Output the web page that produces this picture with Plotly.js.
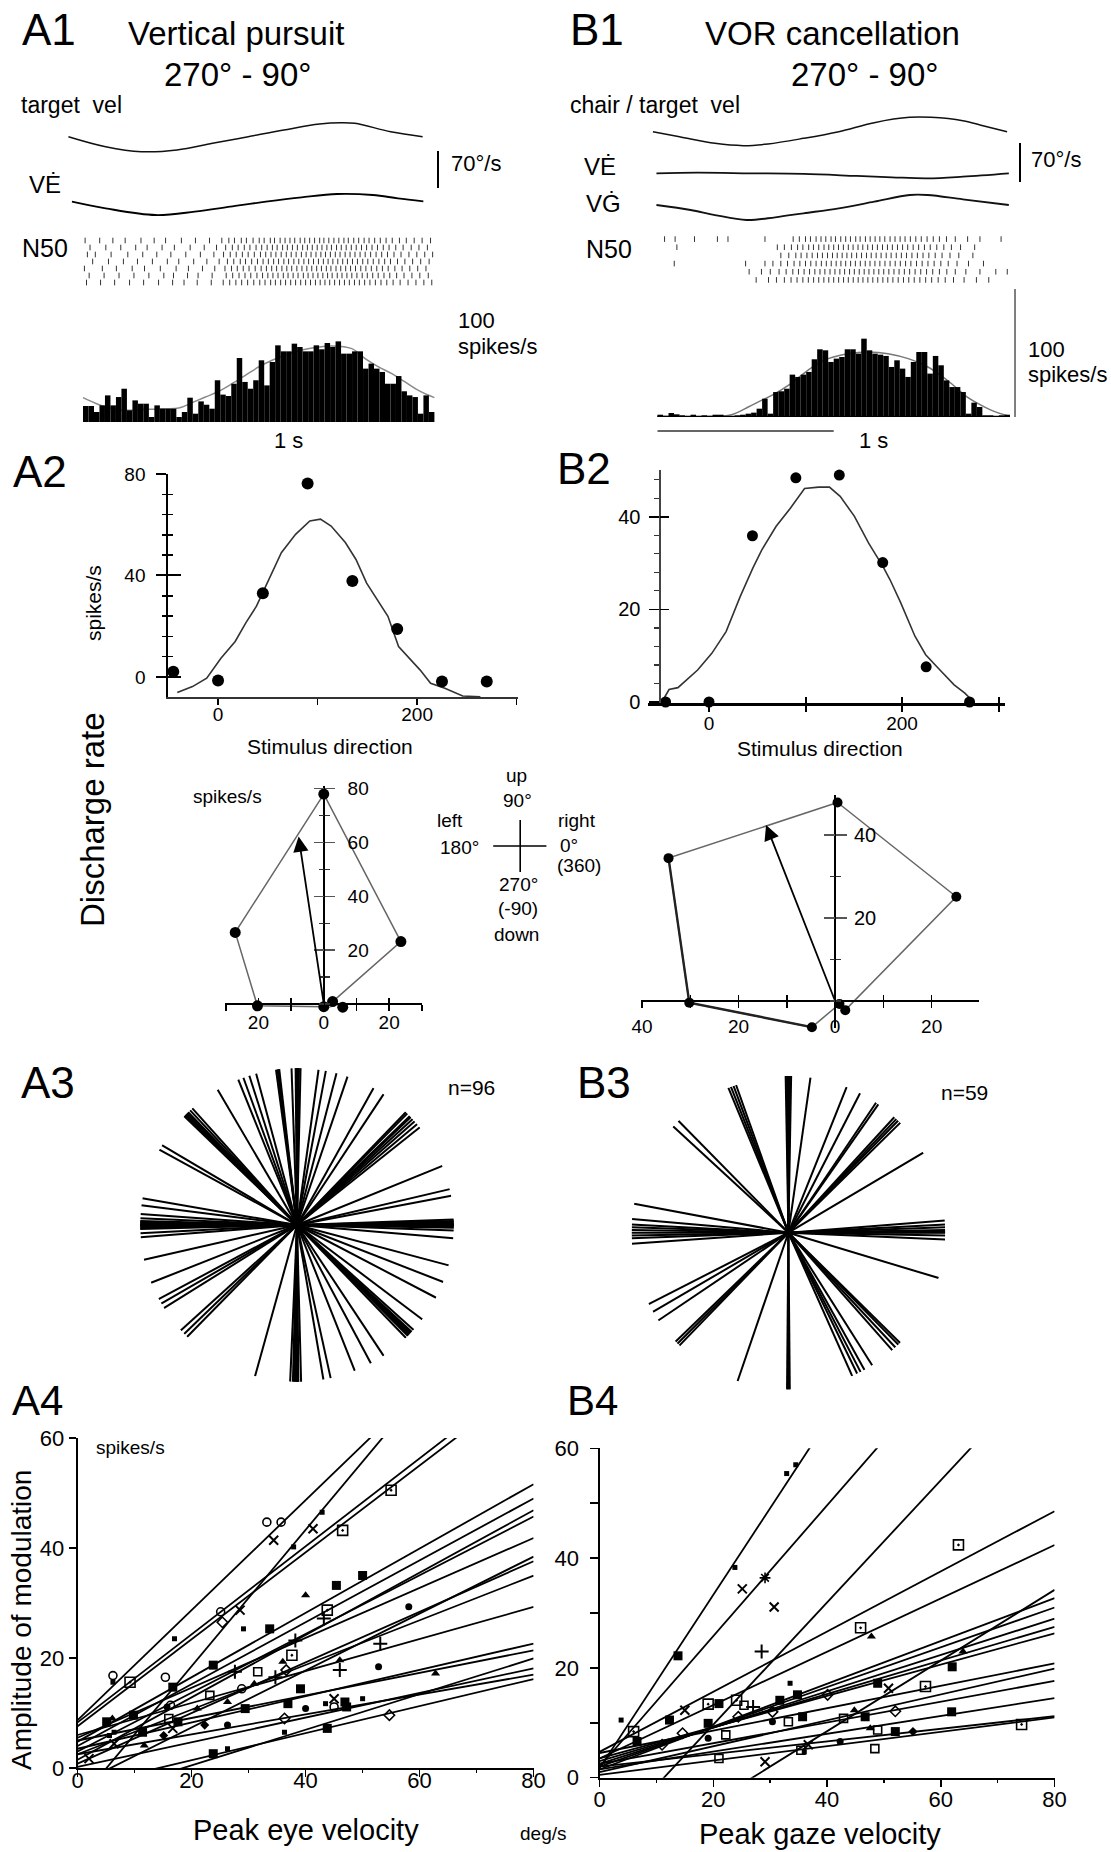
<!DOCTYPE html>
<html><head><meta charset="utf-8">
<script src="https://cdn.plot.ly/plotly-3.0.1.min.js"></script>
<style>html,body{margin:0;padding:0;background:#fff}#chart{width:1111px;height:1852px}</style>
</head><body><div id="chart"></div>
<script>
// ================= DATA =================
// A1 vertical pursuit traces: time (ms), velocity (deg/s)
const a1TargetT = [-83,129,332,535,737,940,1143,1346,1467,1548,1751,1933];
const a1TargetV = [0.6,-18.3,-27.7,-24.5,-11.9,0.6,13.2,24.5,27,25.8,10,0.6];
const a1EyeT = [-63,129,413,636,838,1041,1244,1447,1650,1792,1937];
const a1EyeV = [4.4,-8.2,-20.8,-14.5,-5.1,4.4,12.6,18.9,17,10.7,5.1];
// A1 raster (spike times, ms, per trial row)
const a1Rows = [
 [12,95,170,240,330,405,470,560,640,720,790,830,862,901,930,968,1003,1031,1066,1090,1122,1150,1178,1205,1236,1262,1290,1318,1347,1371,1399,1428,1456,1485,1510,1541,1569,1600,1628,1660,1692,1725,1760,1801,1840,1885,1930,1978],
 [40,130,215,300,365,450,520,610,690,760,812,850,883,918,950,985,1017,1048,1078,1105,1136,1163,1192,1220,1250,1277,1305,1333,1360,1388,1414,1443,1470,1498,1527,1555,1585,1614,1645,1676,1709,1742,1780,1822,1868,1912,1960],
 [25,70,160,255,340,420,500,585,668,745,800,838,872,907,940,975,1010,1040,1070,1098,1128,1157,1185,1213,1243,1270,1298,1326,1354,1380,1408,1436,1463,1492,1520,1548,1577,1606,1637,1668,1700,1733,1770,1810,1855,1900,1945,1990],
 [55,145,230,310,395,480,545,630,705,775,822,858,895,925,960,993,1025,1055,1085,1113,1143,1170,1200,1228,1257,1284,1312,1340,1368,1395,1422,1450,1478,1505,1534,1562,1592,1621,1652,1684,1717,1750,1790,1832,1876,1922,1970],
 [8,110,190,280,350,440,530,600,680,750,808,845,878,912,945,980,1014,1044,1074,1102,1132,1160,1188,1217,1246,1274,1302,1330,1357,1385,1411,1440,1467,1495,1523,1551,1581,1610,1641,1672,1704,1737,1775,1816,1860,1905,1952],
 [35,120,205,290,375,460,515,595,655,735,815,852,888,922,955,990,1022,1052,1081,1110,1140,1167,1196,1224,1254,1281,1309,1337,1365,1392,1418,1447,1474,1502,1530,1559,1589,1618,1649,1680,1713,1746,1785,1827,1872,1917,1965],
 [20,100,180,265,345,430,510,575,650,730,798,835,870,903,937,972,1006,1036,1068,1095,1125,1153,1182,1210,1239,1267,1295,1323,1350,1377,1404,1432,1460,1488,1516,1545,1573,1603,1633,1664,1696,1729,1765,1805,1850,1895,1940,1985]
];
// A1 PSTH (spikes/s), 64 bins over 2 s
const a1Hist = [12.5,12.5,7.8,13,20.8,13,19.5,26,9.1,16.9,14.3,14.3,3.9,13,10.4,10.4,10.4,3.9,7.8,19,6.5,16.1,13.5,10.4,32.6,21.4,20.3,29.9,50,31.3,26,32.6,48.2,28.6,46.9,59.9,55.2,55.2,61.2,58.6,55.2,55.2,59.9,56.8,61.7,58.6,63,53.4,53.4,55.2,55.2,41.7,45.6,41.7,39.1,29.9,29.9,35.9,24,20.8,19.5,6.5,20.8,7.8];
const a1FitT = [0,91,167,261,356,451,545,621,697,773,848,924,1000,1076,1189,1303,1417,1530,1606,1682,1758,1833,1909,2000];
const a1FitR = [19,13.5,10.4,9.1,9.9,10.4,10.9,15.1,19.5,24,29.9,36.5,43,48.2,54.2,57.8,59.4,57.3,49.5,43,37.8,31.3,24.7,19];

// B1 VOR cancellation traces
const b1ChairT = [-26,125,326,487,627,829,1029,1230,1431,1552,1733,1853,1984];
const b1ChairV = [-0.3,-9.3,-21.3,-25.4,-22.4,-12.3,-0.3,15.9,25.4,25.4,19.4,9.9,-0.3];
const b1EyeT = [-6,225,527,829,1130,1331,1532,1733,1994];
const b1EyeV = [0,1.1,0,-1.2,-4.8,-7.2,-9,-6,0];
const b1GazeT = [-6,188,326,506,668,829,1029,1230,1432,1532,1733,1994];
const b1GazeV = [4.5,-4.5,-13.5,-22.4,-17.6,-10.4,-1.4,10.4,22.4,22.4,14.7,4.5];
const b1Rows = [
 [40,100,210,340,400,610,770,805,840,868,900,928,955,985,1010,1040,1068,1095,1125,1150,1180,1207,1235,1262,1290,1320,1348,1377,1405,1435,1466,1497,1530,1565,1600,1640,1690,1760,1830,1950],
 [110,680,720,760,795,825,858,885,915,945,972,1000,1027,1055,1083,1110,1138,1165,1193,1220,1248,1277,1305,1333,1362,1391,1420,1451,1482,1515,1548,1585,1625,1668,1720,1800],
 [700,745,785,815,848,878,908,936,965,993,1020,1048,1075,1102,1130,1158,1186,1213,1241,1269,1298,1326,1355,1384,1413,1444,1475,1507,1540,1576,1615,1660,1710,1790],
 [95,500,610,655,700,738,775,808,840,870,900,930,958,986,1014,1041,1068,1096,1123,1151,1179,1206,1234,1262,1291,1320,1349,1378,1408,1438,1470,1502,1535,1570,1608,1650,1700,1765,1850],
 [520,590,640,690,730,768,800,832,863,893,922,950,979,1007,1035,1062,1090,1117,1145,1173,1200,1228,1256,1284,1313,1342,1371,1401,1431,1462,1494,1527,1562,1600,1642,1690,1750,1830,1920,1985],
 [560,630,675,720,758,792,825,856,886,915,944,972,1000,1028,1056,1083,1111,1139,1166,1194,1222,1250,1279,1307,1336,1366,1396,1426,1457,1489,1522,1556,1593,1633,1680,1740,1810,1880]
];
const b1Hist = [1.8,0.8,3.1,2.1,1.3,0.8,1.8,0.8,1.3,0.8,1.8,1.8,0.8,0,1.3,1.8,2.6,3.4,6.5,14.3,2.6,19.5,20.1,22.1,33.1,31.3,33.1,35.2,45.1,52.9,52.1,43,45.6,46.9,52.9,52.9,49.5,61.2,52.1,49.5,48.7,47.7,39.1,44.3,37.8,31.3,43,50.8,50.8,33.9,47.7,40.4,28.6,23.4,23.4,19.5,2.6,11.2,7.8,1.3,1.3,0.8,1.3,1.8];
const b1FitT = [0,325,420,515,590,666,742,817,893,969,1082,1196,1309,1423,1517,1593,1669,1744,1820,1896,2000];
const b1FitR = [0.5,0.5,1.8,7.8,13,18.2,24.7,32.6,40.4,45.6,49.5,50.8,49.5,45.6,40.4,33.9,26,16.9,10.4,5.2,0.5];

// A2 / B2 tuning curves: stimulus direction (deg) vs discharge (spikes/s)
const stimDir = [-45,0,45,90,135,180,225,270];
const a2Rate = [2.1,-1.4,33,76.3,37.8,18.9,-1.8,-1.8];
const a2FitX = [-41,-25.7,-11.4,2.9,17.2,27.9,38.6,52.9,63.6,77.9,92.2,102.9,113.6,127.9,138.6,149.3,160,170.7,181.4,192.2,202.9,213.6,227.9,245.8,263.6];
const a2FitY = [-6.1,-3.8,-0.5,7.4,14,21.3,27.9,39.7,49,56.2,61.5,62.2,59.5,53,46.3,37,30.5,23.9,12,7.4,2.8,-2.5,-4.5,-7.5,-7.8];
const b2Rate = [0,0,35.9,48.4,49,30.1,7.6,0];
const b2FitX = [-48.8,-41.4,-32.2,-11.8,2.9,17.7,32.4,45.4,54.6,69.4,84.1,99,113.7,124.8,135.9,150.7,165.4,180.2,187.6,198.7,213.4,224.5,239.3,254,265.1,274.3];
const b2FitY = [0,2.7,3.1,6.9,10.5,15.2,22.8,28.9,32.8,37.9,41.8,46.1,46.4,46.4,44.4,40.1,34.3,29.3,26.4,21.4,14.2,10.2,6.9,3.7,1.9,0];

// Polar plots (cartesian spikes/s)
const polAX = [0,-27.1,-20.3,0,3.3,5.8,2.7,23.6,0];
const polAY = [78,26.6,-0.7,-1,-2,-1.2,0.9,23.2,78];
const polAVec = [-7.7,62.2];
const polBX = [0.5,-34.5,-30.2,-4.8,0.9,2.1,25.1,0.5];
const polBY = [47.8,34.4,-0.4,-6.3,-0.7,-2.2,25.1,47.8];
const polBVec = [-14.3,42.4];

// A3 / B3 preferred directions (deg)
const a3Angles = [355.2,358,359,0,0.5,1,2,359.5,0.2,1.5,10.7,13.2,22.1,38.5,40,41.4,42.5,43.5,44,45.3,46,56.5,60.8,71.2,75.4,79.4,82.1,88.7,89.3,89.7,90,90.5,92,96.5,97,97.1,97.7,105.1,107.7,110,112,120.4,131.9,133,134,134.5,135,135.5,136,149.4,151.3,170.2,172.8,176,177.5,178.5,179,179.5,180,180.5,181,181.5,183,184.5,192.8,201.6,208.2,210.1,212,222.2,224,225.5,254.5,267.5,268.5,269,269.5,270,270.5,271.5,279.7,282.4,291.6,298.1,303.5,314,315,315.5,316,316.5,317,318,323,332.4,338.7,345.1];
const b3Angles = [0,0.2,0.5,1,2,3,4.5,359,357.5,30.7,44.5,45.6,46.5,47.5,55,56,62.8,68.2,81.9,89,89.5,90,90.5,91,109.5,110.5,111.5,112.5,134.5,137.3,169.4,175,177,178,179,180,181,182,184,207.1,210.3,214,224,225,226,251.1,269.5,270,270.5,294,296,297.4,299,302.3,311.5,313,314.5,315.4,343.2];

// A4 / B4 regression lines (intercept, slope)
const a4Int = [8.7,-6.3,8.3,7.6,4.8,4.0,1.5,3.0,5.5,-3.0,0.8,2.5,6.0,3.5,5.0,-6.0,0.2,2.5,-3.5];
const a4Slope = [1.0,1.24,0.80,0.79,0.585,0.5625,0.567,0.534,0.454,0.518,0.46,0.406,0.291,0.239,0.205,0.324,0.224,0.181,0.246];
const b4Int = [1.7,2.0,-12.6,4.7,3.5,-17.3,1.5,2.0,2.5,3.0,3.5,4.5,1.0,2.5,1.5,2.0,0.5];
const b4Slope = [1.58,1.19,1.113,0.548,0.486,0.644,0.39,0.3625,0.331,0.306,0.285,0.204,0.236,0.189,0.1625,0.115,0.131];
// A4 data points by symbol [velocity, amplitude]
const a4SqS = [[42.9,46.5],[37.9,40.2],[29.1,25.3],[43.5,11.7],[50,12.6],[26.3,3.5],[6.2,15.6],[17,23.5],[36.3,6.5],[6.4,6.5],[5.6,5.9]];
const a4SqL = [[45.4,33.2],[50,35],[33.7,25.3],[23.8,18.7],[39.1,14.4],[29.4,10.8],[36.9,11.7],[47.2,11.1],[43.8,7.2],[23.8,2.6],[17.6,8.4],[16.7,14.7],[11.4,6.5],[9.8,9.6],[5.1,8.4],[46.9,12]];
const a4CircO = [[33.2,44.7],[35.7,44.7],[25.1,28.4],[15.4,16.5],[6.2,16.8],[45,11.1],[16.3,11.4],[28.8,14.4]];
const a4X = [[34.4,41.4],[28.5,28.7],[45,12.6],[16.7,7.2],[6.4,4.4],[2,1.7],[41.3,43.5]];
const a4SqDot = [[46.5,43.2],[55,50.5],[43.8,28.7],[37.6,20.5],[9.2,15.6]];
const a4SqO = [[31.6,17.5],[23.2,13.2],[16,9]];
const a4Tri = [[40,31.4],[62.8,17.2],[36,19.3],[46,19.6],[21,10.8],[26.3,12],[6.1,9],[11.7,4.1],[31,15.3]];
const a4Cross = [[43.2,27.2],[38.2,23.2],[27.6,17.5],[34.7,16.5],[46,17.8],[53.1,22.6]];
const a4Circ = [[58.1,29.3],[52.8,18.4],[40,10.8],[15.7,11.1],[26.3,7.8]];
const a4DiaO = [[25.4,26.5],[54.7,9.6],[36.3,9],[36.6,17.8]];
const a4Dia = [[22.3,7.8],[15.1,5.9]];
// B4 data points by symbol
const b4SqS = [[33.4,71],[32.9,55.4],[34.5,57],[23.8,38.3],[3.8,10.5],[33.5,17.2],[36,4.7]];
const b4SqL = [[13.8,22.2],[6.6,6.6],[12.3,10.5],[21,13.5],[19.1,9.9],[34.8,15.1],[35.7,11.1],[46.7,11.1],[48.9,17.2],[52,8.4],[62,20.2],[61.9,12],[31.7,14.1]];
const b4X = [[25.1,34.4],[30.7,31.1],[15,12.3],[36.7,6],[29.1,2.9],[50.8,16.3]];
const b4Ast = [[29.1,36.4]];
const b4Cross = [[28.5,23],[27,12.9]];
const b4SqDot = [[6,8.4],[19.1,13.4],[45.9,27.3],[57.3,16.6],[63.1,42.4],[74.2,9.7],[24.1,14.1]];
const b4SqO = [[21,3.5],[22.2,7.8],[25.4,13.2],[33.2,10.2],[35.4,5],[42.9,10.8],[48.9,8.7],[48.4,5.3]];
const b4DiaO = [[14.6,8.1],[24.4,11.1],[30.4,12],[40.1,15.1],[52,12.1],[11,6]];
const b4Circ = [[30.4,10.2],[42.3,6.6],[19.1,7.2]];
const b4Tri = [[44.8,12.3],[47.6,9],[47.8,25.7],[63.9,23]];
const b4Dia = [[55.1,8.4]];

// ================= LAYOUT HELPERS =================
const W = 1111, H = 1852;
const px = v => v / W;
const py = v => 1 - v / H;
const dom = (a, b) => [px(a), px(b)];
const domY = (top, bottom) => [py(bottom), py(top)];
const FONT = 'Liberation Sans, Arial, Helvetica, sans-serif';
const BIN_MS = 2000 / 64;

const traces = [];
const annotations = [];
const shapes = [];

function txt(text, x, y, size, o) {
  annotations.push(Object.assign({text: text, x: px(x), y: py(y), xref: 'paper', yref: 'paper',
    showarrow: false, xanchor: 'center', yanchor: 'middle',
    font: {family: FONT, size: size, color: '#000'}}, o || {}));
}
function pline(x0, y0, x1, y1, w, c) {
  shapes.push({type: 'line', xref: 'paper', yref: 'paper', x0: px(x0), y0: py(y0), x1: px(x1), y1: py(y1),
    line: {color: c || '#000', width: w}});
}
function lineTrace(x, y, xa, ya, color, width, extra) {
  traces.push(Object.assign({type: 'scatter', mode: 'lines', x: x, y: y, xaxis: xa, yaxis: ya,
    line: {color: color, width: width}, hoverinfo: 'skip', showlegend: false}, extra || {}));
}
function dots(x, y, xa, ya, size) {
  traces.push({type: 'scatter', mode: 'markers', x: x, y: y, xaxis: xa, yaxis: ya, cliponaxis: false,
    marker: {color: '#000', size: size, symbol: 'circle'}, hoverinfo: 'skip', showlegend: false});
}
function dummy(xa, ya) {
  traces.push({type: 'scatter', mode: 'markers', x: [null], y: [null], xaxis: xa, yaxis: ya, hoverinfo: 'skip', showlegend: false});
}
function raster(rows, xa, ya) {
  const xs = [], ys = [];
  rows.forEach((r, i) => r.forEach(t => { xs.push(t); ys.push(i + 1); }));
  traces.push({type: 'scatter', mode: 'markers', x: xs, y: ys, xaxis: xa, yaxis: ya,
    marker: {symbol: 'line-ns-open', size: 4, color: '#333', line: {width: 1, color: '#333'}},
    hoverinfo: 'skip', showlegend: false});
}
function hist(vals, xa, ya) {
  traces.push({type: 'bar', x: vals.map((v, i) => (i + 0.5) * BIN_MS), y: vals, width: BIN_MS,
    xaxis: xa, yaxis: ya, marker: {color: '#000', line: {width: 0}}, hoverinfo: 'skip', showlegend: false});
}
function rays(angles, subplot) {
  const r = [], th = [];
  angles.forEach(a => { r.push(0, 1, null); th.push(a, a, null); });
  traces.push({type: 'scatterpolar', mode: 'lines', r: r, theta: th, subplot: subplot,
    line: {color: '#000', width: 2}, hoverinfo: 'skip', showlegend: false});
}
function regLines(ints, slopes, xa, ya) {
  ints.forEach((b, i) => lineTrace([0, 80], [b, b + 80 * slopes[i]], xa, ya, '#000', 1.8));
}
const SYM = {
  sqS: {symbol: 'square', size: 5}, sqL: {symbol: 'square', size: 9},
  circO: {symbol: 'circle-open', size: 8, lw: 1.6}, x: {symbol: 'x-thin-open', size: 9, lw: 2},
  sqDot: {symbol: 'square-open-dot', size: 10, lw: 1.6}, sqO: {symbol: 'square-open', size: 8, lw: 1.6},
  tri: {symbol: 'triangle-up', size: 8}, cross: {symbol: 'cross-thin-open', size: 10, lw: 2},
  circ: {symbol: 'circle', size: 7}, diaO: {symbol: 'diamond-open', size: 8, lw: 1.6},
  dia: {symbol: 'diamond', size: 7}, ast: {symbol: 'asterisk-open', size: 9, lw: 1.6}
};
function pts(arr, key, xa, ya) {
  const s = SYM[key];
  traces.push({type: 'scatter', mode: 'markers', x: arr.map(p => p[0]), y: arr.map(p => p[1]),
    xaxis: xa, yaxis: ya, cliponaxis: false,
    marker: {symbol: s.symbol, size: s.size, color: '#000', line: {color: '#000', width: s.lw || 0}},
    hoverinfo: 'skip', showlegend: false});
}

const hidden = {visible: false, showgrid: false, zeroline: false, fixedrange: true};
function ax(o) {
  return Object.assign({showgrid: false, zeroline: false, fixedrange: true, linecolor: '#000', tickcolor: '#000',
    tickfont: {family: FONT, size: 20, color: '#000'}}, o);
}
function overlay(o) {
  return Object.assign({showgrid: false, zeroline: false, fixedrange: true, showline: false, showticklabels: false,
    tickcolor: '#000'}, o);
}

// ================= A1 =================
const kA = 0.53;  // px per deg/s
const layout = {
  width: W, height: H, autosize: false, margin: {l: 0, r: 0, t: 0, b: 0},
  paper_bgcolor: '#fff', plot_bgcolor: 'rgba(0,0,0,0)', showlegend: false,
  font: {family: FONT, color: '#000', size: 18}
};
layout.xaxis = Object.assign({}, hidden, {domain: dom(60, 445), range: [-130.9, 2060.3], anchor: 'y4'});
layout.yaxis = Object.assign({}, hidden, {domain: domY(107, 167), range: [-30 / kA, 30 / kA], anchor: 'x'});
layout.yaxis2 = Object.assign({}, hidden, {domain: domY(174, 234), range: [-30 / kA, 30 / kA], anchor: 'x'});
layout.yaxis3 = Object.assign({}, hidden, {domain: domY(237, 286), range: [7.5, 0.5], anchor: 'x'});
layout.yaxis4 = Object.assign({}, hidden, {domain: domY(300, 422), range: [0, 122 / 1.28], anchor: 'x'});
layout.yaxis20 = Object.assign({}, hidden, {overlaying: 'y4', range: [0, 122 / 1.28], anchor: 'x'});
lineTrace(a1TargetT, a1TargetV, 'x', 'y', '#111', 1.5, {line: {color: '#111', width: 1.5, shape: 'spline', smoothing: 1}});
lineTrace(a1EyeT, a1EyeV, 'x', 'y2', '#000', 1.8, {line: {color: '#000', width: 1.8, shape: 'spline', smoothing: 1}});
raster(a1Rows, 'x', 'y3');
lineTrace(a1FitT, a1FitR, 'x', 'y4', '#8a8a8a', 1.5, {line: {color: '#8a8a8a', width: 1.5, shape: 'spline'}});
hist(a1Hist, 'x', 'y20');

// ================= B1 =================
const kB = 0.557;
layout.xaxis2 = Object.assign({}, hidden, {domain: dom(630, 1030), range: [-156.1, 2114.1], anchor: 'y9'});
layout.yaxis5 = Object.assign({}, hidden, {domain: domY(101.5, 161.5), range: [-30 / kB, 30 / kB], anchor: 'x2'});
layout.yaxis6 = Object.assign({}, hidden, {domain: domY(143.3, 203.3), range: [-30 / kB, 30 / kB], anchor: 'x2'});
layout.yaxis7 = Object.assign({}, hidden, {domain: domY(177.5, 237.5), range: [-30 / kB, 30 / kB], anchor: 'x2'});
layout.yaxis8 = Object.assign({}, hidden, {domain: domY(235, 284), range: [6.5, 0.5], anchor: 'x2'});
layout.yaxis9 = Object.assign({}, hidden, {domain: domY(280, 417), range: [0, 137 / 1.28], anchor: 'x2'});
layout.yaxis21 = Object.assign({}, hidden, {overlaying: 'y9', range: [0, 137 / 1.28], anchor: 'x2'});
lineTrace(b1ChairT, b1ChairV, 'x2', 'y5', '#111', 1.5, {line: {color: '#111', width: 1.5, shape: 'spline', smoothing: 1}});
lineTrace(b1EyeT, b1EyeV, 'x2', 'y6', '#111', 1.8, {line: {color: '#111', width: 1.8, shape: 'spline', smoothing: 1}});
lineTrace(b1GazeT, b1GazeV, 'x2', 'y7', '#111', 1.8, {line: {color: '#111', width: 1.8, shape: 'spline', smoothing: 1}});
raster(b1Rows, 'x2', 'y8');
lineTrace(b1FitT, b1FitR, 'x2', 'y9', '#777', 1.5, {line: {color: '#777', width: 1.5, shape: 'spline'}});
// 100 spikes/s calibration bar
lineTrace([2029, 2029], [0, 100], 'x2', 'y9', '#555', 1.5, {cliponaxis: false});
hist(b1Hist, 'x2', 'y21');
lineTrace([0, 2000], [0, 0], 'x2', 'y21', '#000', 2.5, {cliponaxis: false});
// 1 s bar
shapes.push({type: 'line', xref: 'x2', yref: 'paper', x0: 0, x1: 1000, y0: py(431), y1: py(431), line: {color: '#333', width: 1.5}});
// 70 deg/s bars (70 * px-per-deg)
pline(438, 151, 438, 151 + 70 * kA, 2);
pline(1020, 143, 1020, 143 + 70 * kB, 2);

// ================= A2 =================
layout.xaxis3 = ax({domain: dom(168.3, 517.6), range: [-50, 301], anchor: 'y10', showline: true, linewidth: 1.5, linecolor: '#333',
  tickmode: 'array', tickvals: [0, 100, 200, 300], ticktext: ['0', '', '200', ''], ticks: 'outside', ticklen: 6, tickwidth: 1.5,
  tickfont: {family: FONT, size: 19, color: '#000'}, ticklabelstandoff: -6});
layout.yaxis10 = ax({domain: domY(474, 697), range: [-7.9, 80], anchor: 'x3', showline: true, linewidth: 2,
  tickmode: 'array', tickvals: [0, 40, 80], ticks: 'outside', ticklen: 10, tickwidth: 2,
  minor: {tickmode: 'linear', tick0: 0, dtick: 8, ticks: 'outside', ticklen: 4, tickwidth: 1.5, tickcolor: '#000'},
  tickfont: {family: FONT, size: 19, color: '#000'}, ticklabelstandoff: 7});
layout.yaxis11 = overlay({overlaying: 'y10', anchor: 'x3', side: 'left', range: [-7.9, 80], tickmode: 'array', tickvals: [0, 40, 80],
  ticks: 'inside', ticklen: 13, tickwidth: 2,
  minor: {tickmode: 'linear', tick0: 0, dtick: 8, ticks: 'inside', ticklen: 5, tickwidth: 1.5, tickcolor: '#000'}});
dummy('x3', 'y11');
lineTrace(a2FitX, a2FitY, 'x3', 'y10', '#333', 1.6);
dots(stimDir, a2Rate, 'x3', 'y10', 12);

// ================= B2 =================
layout.xaxis4 = ax({domain: dom(648.4, 1004.8), range: [-62.8, 306.5], anchor: 'y12', showline: true, linewidth: 3,
  tickmode: 'array', tickvals: [0, 100, 200, 300], ticktext: ['0', '', '200', ''], ticks: 'outside', ticklen: 6, tickwidth: 2,
  tickfont: {family: FONT, size: 19, color: '#000'}, ticklabelstandoff: -5});
layout.xaxis5 = overlay({overlaying: 'x4', anchor: 'y12', range: [-62.8, 306.5], tickmode: 'array', tickvals: [0, 100, 200, 300],
  ticks: 'inside', ticklen: 6, tickwidth: 2});
layout.yaxis12 = ax({domain: domY(470, 703), range: [-0.216, 50.1], anchor: 'free', position: px(659.4), showline: true,
  linewidth: 1.5, linecolor: '#444', tickmode: 'array', tickvals: [0, 20, 40], ticks: 'outside', ticklen: 10, tickwidth: 1.5,
  minor: {tickmode: 'linear', tick0: 0, dtick: 4, ticks: 'outside', ticklen: 5, tickwidth: 1.2, tickcolor: '#333'},
  tickfont: {family: FONT, size: 20, color: '#000'}, ticklabelstandoff: 5});
layout.yaxis13 = overlay({overlaying: 'y12', anchor: 'free', position: px(659.4), range: [-0.216, 50.1], tickmode: 'array',
  tickvals: [0, 20, 40], ticks: 'inside', ticklen: 9, tickwidth: 1.5});
dummy('x5', 'y12');
dummy('x4', 'y13');
lineTrace(b2FitX, b2FitY, 'x4', 'y12', '#333', 1.6, {cliponaxis: false});
dots(stimDir, b2Rate, 'x4', 'y12', 11);

// ================= Polar A (xy) =================
layout.xaxis6 = ax({domain: dom(225.1, 421.8), range: [-30.2, 30], anchor: 'free', position: py(1004), showline: true, linewidth: 2,
  tickmode: 'array', tickvals: [-30, -20, -10, 0, 10, 20, 30], ticktext: ['', '20', '', '0', '', '20', ''],
  ticks: 'outside', ticklen: 6, tickwidth: 1.5, tickfont: {family: FONT, size: 19, color: '#000'}, ticklabelstandoff: -5});
layout.xaxis7 = overlay({overlaying: 'x6', anchor: 'free', position: py(1004), range: [-30.2, 30], tickmode: 'array',
  tickvals: [-30, -20, -10, 0, 10, 20, 30], ticks: 'inside', ticklen: 6, tickwidth: 1.5});
layout.yaxis14 = ax({domain: domY(786, 1008), range: [-1.49, 81], anchor: 'free', position: px(323.8), side: 'right',
  showline: true, linewidth: 2, tickmode: 'array', tickvals: [20, 40, 60, 80], ticks: 'outside', ticklen: 10, tickwidth: 1.5,
  tickcolor: '#555', minor: {tickmode: 'linear', tick0: 0, dtick: 10, ticks: 'outside', ticklen: 5, tickwidth: 1.5, tickcolor: '#333'},
  tickfont: {family: FONT, size: 19, color: '#000'}, ticklabelstandoff: 9});
layout.yaxis15 = overlay({overlaying: 'y14', anchor: 'free', position: px(323.8), side: 'right', range: [-1.49, 81],
  tickmode: 'array', tickvals: [20, 40, 60, 80], ticks: 'inside', ticklen: 10, tickwidth: 1.5, tickcolor: '#555',
  minor: {tickmode: 'linear', tick0: 0, dtick: 10, ticks: 'inside', ticklen: 5, tickwidth: 1.5, tickcolor: '#333'}});
dummy('x7', 'y15');
lineTrace(polAX, polAY, 'x6', 'y14', '#666', 1.5, {cliponaxis: false});
dots(polAX.slice(0, -1), polAY.slice(0, -1), 'x6', 'y14', 11);
annotations.push({x: polAVec[0], y: polAVec[1], ax: 0, ay: 0, xref: 'x6', yref: 'y14', axref: 'x6', ayref: 'y14',
  showarrow: true, arrowhead: 2, arrowsize: 1.7, arrowwidth: 1.8, arrowcolor: '#000', text: ''});

// ================= Polar B (xy) =================
layout.xaxis8 = ax({domain: dom(641, 979), range: [-40.2, 29.8], anchor: 'free', position: py(1001), showline: true, linewidth: 2,
  tickmode: 'array', tickvals: [-40, -30, -20, -10, 0, 10, 20, 30], ticktext: ['40', '', '20', '', '0', '', '20', ''],
  ticks: 'outside', ticklen: 6, tickwidth: 1.5, tickfont: {family: FONT, size: 19, color: '#000'}, ticklabelstandoff: 2});
layout.xaxis9 = overlay({overlaying: 'x8', anchor: 'free', position: py(1001), range: [-40.2, 29.8], tickmode: 'array',
  tickvals: [-40, -30, -20, -10, 0, 10, 20, 30], ticks: 'inside', ticklen: 6, tickwidth: 1.5});
layout.yaxis16 = ax({domain: domY(795, 1028), range: [-6.5, 49.6], anchor: 'free', position: px(835), side: 'right',
  showline: true, linewidth: 2, tickmode: 'array', tickvals: [20, 40], ticks: 'outside', ticklen: 11, tickwidth: 1.5,
  tickcolor: '#555', minor: {tickmode: 'linear', tick0: 0, dtick: 10, ticks: 'outside', ticklen: 5, tickwidth: 1.5, tickcolor: '#333'},
  tickfont: {family: FONT, size: 20, color: '#000'}, ticklabelstandoff: 3});
layout.yaxis17 = overlay({overlaying: 'y16', anchor: 'free', position: px(835), side: 'right', range: [-6.5, 49.6],
  tickmode: 'array', tickvals: [20, 40], ticks: 'inside', ticklen: 11, tickwidth: 1.5, tickcolor: '#555',
  minor: {tickmode: 'linear', tick0: 0, dtick: 10, ticks: 'inside', ticklen: 5, tickwidth: 1.5, tickcolor: '#333'}});
dummy('x9', 'y17');
lineTrace(polBX, polBY, 'x8', 'y16', '#666', 1.5, {cliponaxis: false});
lineTrace(polBX.slice(1, 4), polBY.slice(1, 4), 'x8', 'y16', '#222', 2.4, {cliponaxis: false});
dots(polBX.slice(0, -1), polBY.slice(0, -1), 'x8', 'y16', 10);
annotations.push({x: polBVec[0], y: polBVec[1], ax: 0, ay: 0, xref: 'x8', yref: 'y16', axref: 'x8', ayref: 'y16',
  showarrow: true, arrowhead: 2, arrowsize: 1.7, arrowwidth: 1.8, arrowcolor: '#000', text: ''});

// ================= A3 / B3 (direction roses) =================
const polarBase = {bgcolor: 'rgba(0,0,0,0)', radialaxis: {visible: false, range: [0, 1]},
  angularaxis: {visible: false, rotation: 0, direction: 'counterclockwise'}};
layout.polar = Object.assign({}, polarBase, {domain: {x: dom(140, 454), y: domY(1068, 1382)}});
layout.polar2 = Object.assign({}, polarBase, {domain: {x: dom(631.4, 945.4), y: domY(1075.7, 1389.7)}});
rays(a3Angles, 'polar');
rays(b3Angles, 'polar2');

// ================= A4 =================
layout.xaxis10 = ax({domain: dom(77.6, 533.6), range: [0, 80], anchor: 'y18', showline: true, linewidth: 2,
  tickmode: 'array', tickvals: [0, 20, 40, 60, 80], ticks: 'outside', ticklen: 7, tickwidth: 1.5,
  tickfont: {family: FONT, size: 22, color: '#000'}, ticklabelstandoff: -15});
layout.xaxis12 = overlay({overlaying: 'x10', anchor: 'y18', range: [0, 80], tickmode: 'array', tickvals: [10, 30, 50, 70],
  ticks: 'outside', ticklen: 4, tickwidth: 1.5});
dummy('x12', 'y18');
layout.yaxis18 = ax({domain: domY(1438, 1768), range: [0, 60], anchor: 'x10', showline: true, linewidth: 2,
  tickmode: 'array', tickvals: [0, 20, 40, 60], ticks: 'outside', ticklen: 7, tickwidth: 1.5,
  tickfont: {family: FONT, size: 22, color: '#000'}, ticklabelstandoff: 0});
regLines(a4Int, a4Slope, 'x10', 'y18');
pts(a4SqS, 'sqS', 'x10', 'y18'); pts(a4SqL, 'sqL', 'x10', 'y18'); pts(a4CircO, 'circO', 'x10', 'y18');
pts(a4X, 'x', 'x10', 'y18'); pts(a4SqDot, 'sqDot', 'x10', 'y18'); pts(a4SqO, 'sqO', 'x10', 'y18');
pts(a4Tri, 'tri', 'x10', 'y18'); pts(a4Cross, 'cross', 'x10', 'y18'); pts(a4Circ, 'circ', 'x10', 'y18');
pts(a4DiaO, 'diaO', 'x10', 'y18'); pts(a4Dia, 'dia', 'x10', 'y18');

// ================= B4 =================
layout.xaxis11 = ax({domain: dom(599.5, 1054.6), range: [0, 80], anchor: 'y19', showline: true, linewidth: 2,
  tickmode: 'array', tickvals: [0, 20, 40, 60, 80], ticks: 'outside', ticklen: 7, tickwidth: 1.5,
  tickfont: {family: FONT, size: 22, color: '#000'}, ticklabelstandoff: -6});
layout.xaxis13 = overlay({overlaying: 'x11', anchor: 'y19', range: [0, 80], tickmode: 'array', tickvals: [10, 30, 50, 70],
  ticks: 'outside', ticklen: 4, tickwidth: 1.5});
dummy('x13', 'y19');
layout.yaxis19 = ax({domain: domY(1448.3, 1777.7), range: [0, 60], anchor: 'x11', showline: true, linewidth: 2,
  tickmode: 'array', tickvals: [0, 10, 20, 30, 40, 50, 60], ticktext: ['0', '', '20', '', '40', '', '60'],
  ticks: 'outside', ticklen: 8, tickwidth: 1.5, tickfont: {family: FONT, size: 22, color: '#000'}, ticklabelstandoff: 6});
regLines(b4Int, b4Slope, 'x11', 'y19');
pts(b4SqS, 'sqS', 'x11', 'y19'); pts(b4SqL, 'sqL', 'x11', 'y19'); pts(b4X, 'x', 'x11', 'y19');
pts(b4Ast, 'ast', 'x11', 'y19'); pts(b4Cross, 'cross', 'x11', 'y19'); pts(b4SqDot, 'sqDot', 'x11', 'y19');
pts(b4SqO, 'sqO', 'x11', 'y19'); pts(b4DiaO, 'diaO', 'x11', 'y19'); pts(b4Circ, 'circ', 'x11', 'y19');
pts(b4Tri, 'tri', 'x11', 'y19'); pts(b4Dia, 'dia', 'x11', 'y19');

// ================= TEXT =================
const L = {xanchor: 'left'};
// A1
txt('A1', 20, 29, 44, L);
txt('Vertical pursuit', 236, 33, 33);
txt('270° - 90°', 238, 75, 33);
txt('target  vel', 19, 105, 23, L);
txt('VĖ', 27, 184, 24, L);
txt('70°/s', 449, 164, 22, L);
txt('N50', 20, 248, 25, L);
txt('100', 456, 320, 22, L);
txt('spikes/s', 456, 346, 22, L);
txt('1 s', 288, 440, 22);
// B1
txt('B1', 568, 29, 44, L);
txt('VOR cancellation', 832, 33, 33);
txt('270° - 90°', 865, 75, 33);
txt('chair / target  vel', 568, 105, 23, L);
txt('VĖ', 582, 166, 24, L);
txt('70°/s', 1029, 160, 22, L);
txt('VĠ', 584, 204, 24, L);
txt('N50', 584, 249, 25, L);
txt('100', 1026, 349, 22, L);
txt('spikes/s', 1026, 375, 22, L);
txt('1 s', 873, 440, 22);
// A2 / B2
txt('A2', 11, 471, 44, L);
txt('spikes/s', 93, 603, 21, {textangle: -90});
txt('Stimulus direction', 330, 746, 21);
txt('B2', 555, 468, 44, L);
txt('Stimulus direction', 820, 748, 21);
// polar A + key
txt('Discharge rate', 92, 820, 33, {textangle: -90});
txt('spikes/s', 227, 796, 19);
txt('up', 516, 775, 19);
txt('90°', 517, 800, 19);
txt('left', 450, 820, 19);
txt('180°', 459, 847, 19);
txt('right', 577, 820, 19);
txt('0°', 569, 845, 19);
txt('(360)', 579, 866, 19);
txt('270°', 518, 885, 19);
txt('(-90)', 518, 908, 19);
txt('down', 516, 934, 19);
pline(493.2, 846, 546.4, 846, 1.6);
pline(520.2, 820, 520.2, 872, 1.6);
// A3 / B3
txt('A3', 19, 1082, 44, L);
txt('n=96', 471, 1087, 21);
txt('B3', 575, 1082, 44, L);
txt('n=59', 964, 1092, 21);
// A4 / B4
txt('A4', 10, 1400, 42, L);
txt('spikes/s', 130, 1447, 19);
txt('Amplitude of modulation', 21, 1620, 28, {textangle: -90});
txt('Peak eye velocity', 306, 1830, 29);
txt('deg/s', 518, 1833, 19, L);
txt('B4', 565, 1400, 42, L);
txt('Peak gaze velocity', 820, 1834, 29);

layout.annotations = annotations;
layout.shapes = shapes;

Plotly.newPlot('chart', traces, layout, {staticPlot: true, displayModeBar: false});
</script>
</body></html>
